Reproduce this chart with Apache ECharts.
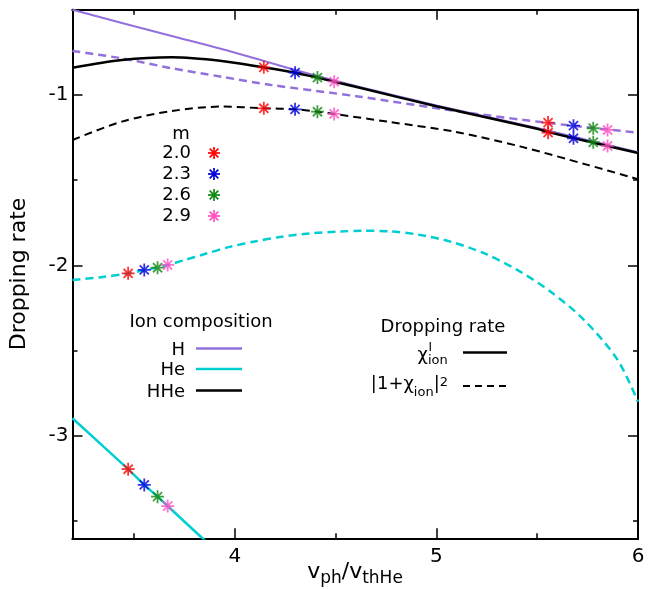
<!DOCTYPE html>
<html><head><meta charset="utf-8">
<script src="https://cdn.jsdelivr.net/npm/echarts@6/dist/echarts.min.js"></script>
<style>html,body{margin:0;padding:0;background:#fff}#c{width:649px;height:589px}</style>
</head><body><div id="c"></div>
<script>
// ---- axis ticks ----
const xMajor = [4, 5, 6];
const xMinor = [3.5, 4.5, 5.5];
const yMajor = [-1, -2, -3];
const yMinor = [-1.5, -2.5, -3.5];
const xRange = [3.195, 6];
const yRange = [-3.6, -0.5];

// ---- curves [x, y] ----
const H_chi = [[3.195,-0.50],[3.44,-0.578],[3.687,-0.654],[3.935,-0.73],[4.144,-0.80],[4.299,-0.853],[4.41,-0.889],[4.493,-0.915],[4.62,-0.953],[5.0,-1.062],[5.5,-1.194],[6.0,-1.336]];
const H_abs = [[3.195,-0.742],[3.44,-0.785],[3.687,-0.843],[3.935,-0.893],[4.18,-0.941],[4.62,-1.01],[5.12,-1.098],[5.57,-1.166],[6.0,-1.221]];
const He_chi = [[3.195,-2.896],[3.471,-3.195],[3.551,-3.287],[3.617,-3.356],[3.667,-3.411],[3.84,-3.6],[3.9,-3.66]];
const He_abs = [[3.195,-2.085],[3.328,-2.070],[3.471,-2.047],[3.577,-2.021],[3.667,-1.997],[3.751,-1.968],[3.851,-1.933],[3.975,-1.891],[4.10,-1.859],[4.224,-1.833],[4.373,-1.812],[4.522,-1.801],[4.632,-1.796],[4.771,-1.800],[4.904,-1.818],[5.07,-1.86],[5.235,-1.928],[5.401,-2.026],[5.567,-2.154],[5.733,-2.32],[5.899,-2.554],[6.0,-2.80]];
const HHe_chi = [[3.195,-0.84],[3.44,-0.795],[3.687,-0.779],[3.935,-0.80],[4.144,-0.838],[4.299,-0.869],[4.41,-0.898],[4.493,-0.922],[4.62,-0.958],[5.0,-1.066],[5.5,-1.198],[5.554,-1.218],[6.0,-1.34]];
const HHe_abs = [[3.195,-1.264],[3.44,-1.156],[3.687,-1.094],[3.935,-1.068],[4.144,-1.078],[4.299,-1.084],[4.41,-1.098],[4.493,-1.111],[4.76,-1.157],[5.09,-1.215],[5.42,-1.303],[5.75,-1.41],[6.0,-1.494]];

// ---- marked points for each m ----
const mLabels = ['2.0', '2.3', '2.6', '2.9'];
const m20 = [[4.144,-0.838],[4.144,-1.078],[5.554,-1.162],[5.554,-1.221],[3.471,-2.046],[3.471,-3.195]];
const m23 = [[4.299,-0.869],[4.299,-1.084],[5.68,-1.18],[5.68,-1.254],[3.551,-2.026],[3.551,-3.287]];
const m26 = [[4.41,-0.898],[4.41,-1.098],[5.778,-1.195],[5.778,-1.277],[3.617,-2.013],[3.617,-3.356]];
const m29 = [[4.493,-0.922],[4.493,-1.111],[5.849,-1.205],[5.849,-1.299],[3.667,-1.997],[3.667,-3.411]];

const FONT = 'DejaVu Sans';
const C_H = '#9370db', C_He = '#00ced1', C_HHe = '#000000';
const starColors = ['#ff0000', '#0000dd', '#118811', '#ff4fc0'];
const STAR = 'path://M5,0L5,10M0,5L10,5M1.5,1.5L8.5,8.5M1.5,8.5L8.5,1.5';
const DASH = [8, 5];

function xAx(pos, vals, len, labels) {
  return {
    type: 'value', position: pos, min: xRange[0], max: xRange[1],
    axisLine: {show: labels !== null, onZero: false, lineStyle: {color: '#000', width: 2}},
    splitLine: {show: false},
    axisTick: {show: true, inside: true, length: len, customValues: vals, lineStyle: {color: '#000', width: 1.5}},
    axisLabel: labels ? {show: true, customValues: vals, color: '#000', fontSize: 20, fontFamily: FONT, margin: 9} : {show: false}
  };
}
function yAx(pos, vals, len, labels) {
  return {
    type: 'value', position: pos, min: yRange[0], max: yRange[1],
    axisLine: {show: labels !== null, onZero: false, lineStyle: {color: '#000', width: 2}},
    splitLine: {show: false},
    axisTick: {show: true, inside: true, length: len, customValues: vals, lineStyle: {color: '#000', width: 1.5}},
    axisLabel: labels ? {show: true, customValues: vals, color: '#000', fontSize: 20, fontFamily: FONT, margin: 4} : {show: false}
  };
}

function lineSeries(name, data, color, width, dashed, z) {
  return {name, type: 'line', data, xAxisIndex: 0, yAxisIndex: 0, showSymbol: false, smooth: 0.3,
    clip: true, z: z, lineStyle: {color, width, type: dashed ? DASH : 'solid'}};
}
function starSeries(name, data, color) {
  return {name, type: 'scatter', data, xAxisIndex: 0, yAxisIndex: 0, symbol: STAR, symbolSize: 13, z: 10,
    itemStyle: {color: color, borderColor: color, borderWidth: 1.8}};
}

const legendGraphics = [];
function txt(x, y, text, size, align, extra) {
  legendGraphics.push(Object.assign({type: 'text', x, y, z: 100,
    style: Object.assign({text, fill: '#000', font: size + 'px "' + FONT + '"', align: align, verticalAlign: 'middle'}, extra || {})}));
}
function seg(x1, y1, x2, y2, color, width, dash) {
  legendGraphics.push({type: 'line', z: 100, shape: {x1, y1, x2, y2},
    style: {stroke: color, lineWidth: width, lineDash: dash || null}});
}
// m legend
txt(181, 134, 'm', 18, 'center');
const mRows = [153, 174, 195, 216];
mLabels.forEach((l, i) => {
  txt(191, mRows[i], l, 18, 'right');
  const cx = 214, cy = mRows[i], r = 6, d = 4.3;
  seg(cx, cy - r, cx, cy + r, starColors[i], 1.7);
  seg(cx - r, cy, cx + r, cy, starColors[i], 1.7);
  seg(cx - d, cy - d, cx + d, cy + d, starColors[i], 1.7);
  seg(cx - d, cy + d, cx + d, cy - d, starColors[i], 1.7);
});
// ion composition legend
txt(201, 322, 'Ion composition', 18, 'center');
txt(185, 350, 'H', 18, 'right');
txt(185, 370.5, 'He', 18, 'right');
txt(185, 392, 'HHe', 18, 'right');
seg(196, 348.5, 242, 348.5, C_H, 2.5);
seg(196, 369, 242, 369, C_He, 2.5);
seg(196, 390.5, 242, 390.5, C_HHe, 2.5);
// dropping rate legend
txt(443, 327, 'Dropping rate', 18, 'center');
txt(428, 355.5, 'χ', 18, 'right');
txt(428.5, 348, 'I', 12, 'left');
txt(428, 361, 'ion', 13, 'left');
txt(448, 384.6, '{m||1+χ}{s|ion}{m||}{p|2}', 18, 'right', {
  rich: {
    m: {fontSize: 18, fontFamily: FONT, fill: '#000'},
    s: {fontSize: 13, fontFamily: FONT, fill: '#000', padding: [16, 0, 0, 0]},
    p: {fontSize: 13, fontFamily: FONT, fill: '#000', padding: [0, 0, 4, 0]}
  }
});
seg(463, 352.5, 507, 352.5, '#000', 2.5);
seg(463, 386, 507, 386, '#000', 2, [7, 5]);
// axis titles
legendGraphics.push({type: 'text', x: 19, y: 274, rotation: Math.PI / 2, z: 100,
  style: {text: 'Dropping rate', fill: '#000', font: '22px "' + FONT + '"', align: 'center', verticalAlign: 'middle'}});
txt(355, 572, '{m|v}{s|ph}{m|/v}{s|thHe}', 22, 'center', {
  rich: {
    m: {fontSize: 22, fontFamily: FONT, fill: '#000'},
    s: {fontSize: 17, fontFamily: FONT, fill: '#000', padding: [14, 0, 0, 0]}
  }
});

const chart = echarts.init(document.getElementById('c'), null, {renderer: 'canvas'});
chart.setOption({
  backgroundColor: '#fff',
  animation: false,
  grid: {left: 72.5, top: 9.75, width: 565.5, height: 528.5, containLabel: false},
  xAxis: [xAx('bottom', xMajor, 10, true), xAx('bottom', xMinor, 5, false), xAx('top', xMajor, 10, false), xAx('top', xMinor, 5, false)],
  yAxis: [yAx('left', yMajor, 10, true), yAx('left', yMinor, 5, false), yAx('right', yMajor, 10, false), yAx('right', yMinor, 5, false)],
  series: [
    lineSeries('H χ', H_chi, C_H, 2, false, 2),
    lineSeries('H |1+χ|²', H_abs, C_H, 2.5, true, 2),
    lineSeries('He χ', He_chi, C_He, 2.5, false, 3),
    lineSeries('He |1+χ|²', He_abs, C_He, 2.5, true, 3),
    lineSeries('HHe χ', HHe_chi, C_HHe, 2.5, false, 4),
    lineSeries('HHe |1+χ|²', HHe_abs, C_HHe, 2, true, 4),
    starSeries('m=2.0', m20, starColors[0]),
    starSeries('m=2.3', m23, starColors[1]),
    starSeries('m=2.6', m26, starColors[2]),
    starSeries('m=2.9', m29, starColors[3])
  ],
  graphic: legendGraphics
});
</script></body></html>
